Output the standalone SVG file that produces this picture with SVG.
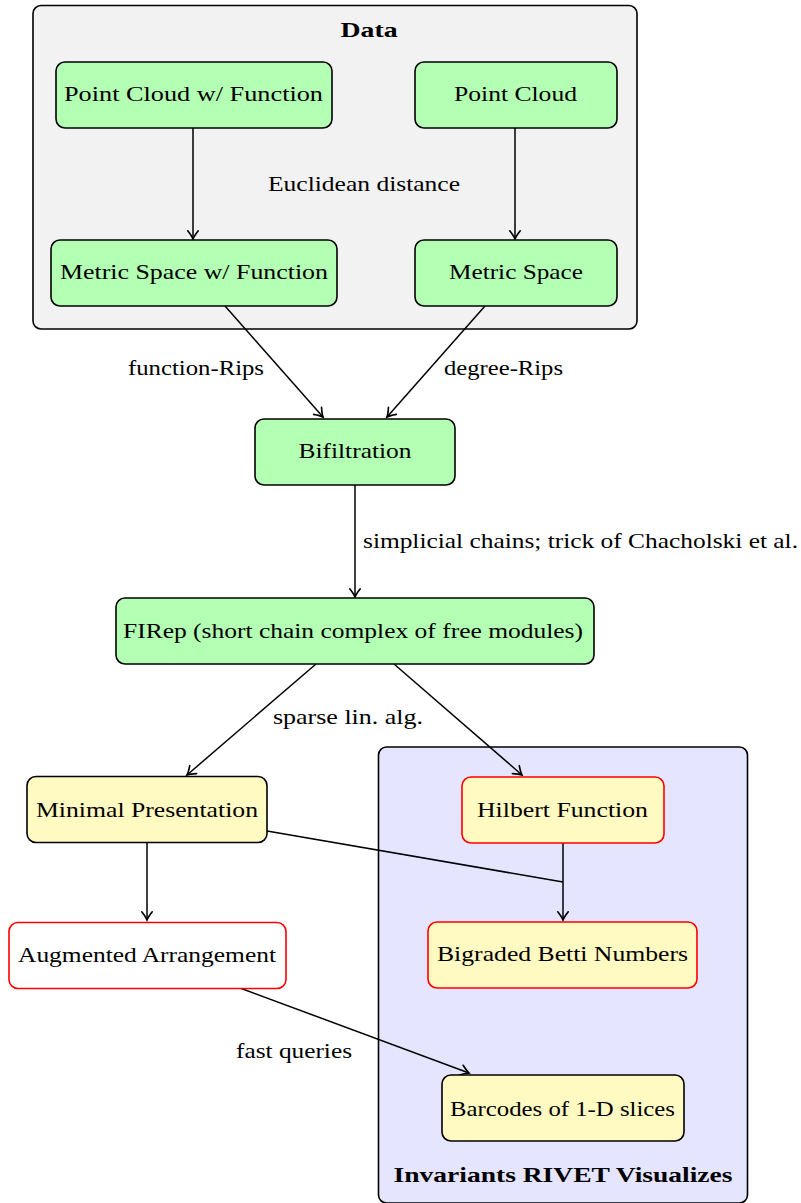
<svg xmlns="http://www.w3.org/2000/svg" width="801" height="1203" viewBox="0 0 801 1203">
<style>
  .node { stroke: #000; stroke-width: 1.6; }
  .green { fill: #b3ffb3; }
  .yellow { fill: #fff9c2; }
  .white { fill: #ffffff; }
  .red { stroke: #ff0000; }
  .t { font-family: "Liberation Serif", "Times New Roman", serif; font-size: 22px; fill: #000; text-anchor: middle; }
  .tl { font-family: "Liberation Serif", "Times New Roman", serif; font-size: 22px; fill: #000; }
  .b { font-weight: bold; }
  .edge { stroke: #000; stroke-width: 1.5; fill: none; }
</style>
<defs>
  <marker id="arr" markerUnits="userSpaceOnUse" markerWidth="14" markerHeight="14" viewBox="-8 -6 10 12" refX="0" refY="0" orient="auto">
    <path d="M -7 -4.5 Q -2.5 -1 0 0 Q -2.5 1 -7 4.5" fill="none" stroke="#000" stroke-width="1.4" stroke-linecap="round"/>
  </marker>
</defs>
<rect width="801" height="1203" fill="#ffffff"/>

<g id="data-group">
  <rect x="33" y="5.5" width="604" height="323.5" rx="8" fill="#f2f2f2" stroke="#000" stroke-width="1.6"/>
  <text class="t b" x="369" y="37" textLength="57" lengthAdjust="spacingAndGlyphs">Data</text>
</g>
<g id="invariants-group">
  <rect x="378.5" y="747" width="369" height="456" rx="8" fill="#e5e5ff" stroke="#000" stroke-width="1.6"/>
  <text class="t b" x="563" y="1182" textLength="339" lengthAdjust="spacingAndGlyphs">Invariants RIVET Visualizes</text>
</g>

<g id="connectors">
  <line class="edge" x1="193" y1="128" x2="193" y2="239" marker-end="url(#arr)"/>
  <line class="edge" x1="515" y1="128" x2="515" y2="239" marker-end="url(#arr)"/>
  <line class="edge" x1="225" y1="306" x2="323" y2="417" marker-end="url(#arr)"/>
  <line class="edge" x1="485" y1="306" x2="387" y2="417" marker-end="url(#arr)"/>
  <line class="edge" x1="355" y1="485" x2="355" y2="597" marker-end="url(#arr)"/>
  <line class="edge" x1="316" y1="664" x2="187" y2="775" marker-end="url(#arr)"/>
  <line class="edge" x1="394" y1="664" x2="522" y2="775" marker-end="url(#arr)"/>
  <polyline class="edge" points="267,831 563,882"/>
  <line class="edge" x1="563" y1="843" x2="563" y2="920" marker-end="url(#arr)"/>
  <line class="edge" x1="147" y1="842" x2="147" y2="920" marker-end="url(#arr)"/>
  <line class="edge" x1="240" y1="988" x2="469" y2="1073" marker-end="url(#arr)"/>
  <text class="tl" x="268" y="191" textLength="192" lengthAdjust="spacingAndGlyphs">Euclidean distance</text>
  <text class="tl" x="128" y="375" textLength="136" lengthAdjust="spacingAndGlyphs">function-Rips</text>
  <text class="tl" x="444" y="375" textLength="119" lengthAdjust="spacingAndGlyphs">degree-Rips</text>
  <text class="tl" x="363" y="548" textLength="435" lengthAdjust="spacingAndGlyphs">simplicial chains; trick of Chacholski et al.</text>
  <text class="tl" x="273" y="724" textLength="150" lengthAdjust="spacingAndGlyphs">sparse lin. alg.</text>
  <text class="tl" x="236" y="1058" textLength="116" lengthAdjust="spacingAndGlyphs">fast queries</text>
</g>

<g id="point-cloud-function">
  <rect class="node green" x="56" y="62" width="276" height="66" rx="9"/>
  <text class="t" x="193.5" y="101" textLength="259" lengthAdjust="spacingAndGlyphs">Point Cloud w/ Function</text>
</g>
<g id="point-cloud">
  <rect class="node green" x="415" y="62" width="202" height="66" rx="9"/>
  <text class="t" x="515.5" y="101" textLength="123" lengthAdjust="spacingAndGlyphs">Point Cloud</text>
</g>
<g id="metric-space-function">
  <rect class="node green" x="51" y="240" width="286" height="66" rx="9"/>
  <text class="t" x="194" y="279" textLength="268" lengthAdjust="spacingAndGlyphs">Metric Space w/ Function</text>
</g>
<g id="metric-space">
  <rect class="node green" x="415" y="240" width="202" height="66" rx="9"/>
  <text class="t" x="516" y="279" textLength="134" lengthAdjust="spacingAndGlyphs">Metric Space</text>
</g>
<g id="bifiltration">
  <rect class="node green" x="255" y="419" width="200" height="66" rx="9"/>
  <text class="t" x="355" y="458" textLength="113" lengthAdjust="spacingAndGlyphs">Bifiltration</text>
</g>
<g id="firep">
  <rect class="node green" x="116" y="598" width="478" height="66" rx="9"/>
  <text class="t" x="353" y="638" textLength="460" lengthAdjust="spacingAndGlyphs">FIRep (short chain complex of free modules)</text>
</g>
<g id="minimal-presentation">
  <rect class="node yellow" x="27" y="776.5" width="240" height="66" rx="9"/>
  <text class="t" x="147" y="817" textLength="222" lengthAdjust="spacingAndGlyphs">Minimal Presentation</text>
</g>
<g id="hilbert-function">
  <rect class="node yellow red" x="462" y="777" width="202" height="66" rx="9"/>
  <text class="t" x="562.5" y="817" textLength="171" lengthAdjust="spacingAndGlyphs">Hilbert Function</text>
</g>
<g id="augmented-arrangement">
  <rect class="node white red" x="9" y="922.5" width="277" height="66" rx="9"/>
  <text class="t" x="147" y="962" textLength="258" lengthAdjust="spacingAndGlyphs">Augmented Arrangement</text>
</g>
<g id="bigraded-betti">
  <rect class="node yellow red" x="428" y="922" width="269" height="66" rx="9"/>
  <text class="t" x="562.5" y="961" textLength="251" lengthAdjust="spacingAndGlyphs">Bigraded Betti Numbers</text>
</g>
<g id="barcodes">
  <rect class="node yellow" x="442" y="1075" width="242" height="66" rx="9"/>
  <text class="t" x="562.5" y="1116" textLength="225" lengthAdjust="spacingAndGlyphs">Barcodes of 1-D slices</text>
</g>
</svg>
